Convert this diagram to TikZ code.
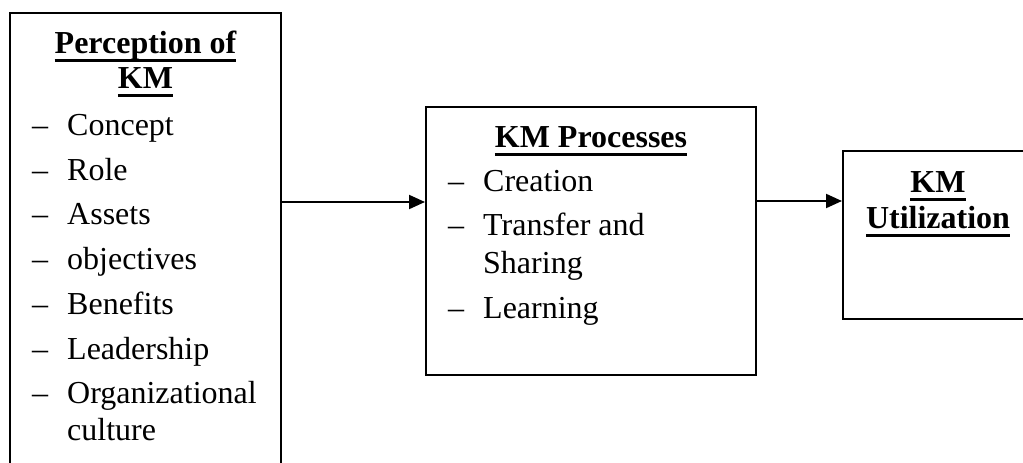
\documentclass[tikz,border=0pt]{standalone}
\usepackage{fontspec}
\setmainfont{Liberation Serif}
\usetikzlibrary{arrows.meta}
\newcommand\myul[1]{\setbox0\hbox{#1}\rlap{\rule[-9pt]{\wd0}{3pt}}\box0}
\tikzset{
  box/.style={draw, line width=2pt, rectangle, inner sep=0pt},
  txt/.style={inner sep=0pt, font=\fontsize{32}{37}\selectfont},
  ttl/.style={txt, anchor=base, font=\fontsize{32}{37}\selectfont\bfseries},
  itm/.style={txt, anchor=base west},
  arr/.style={line width=2pt, -{Triangle[length=16pt,width=14pt]}}
}
\begin{document}
\begin{tikzpicture}[x=1pt,y=-1pt]
\useasboundingbox (0,0) rectangle (1023,463);
\clip (0,0) rectangle (1023,463);
% boxes
\node[box, minimum width=271pt, minimum height=487pt] (lbox) at (145.5,256.5) {};
\node[box, minimum width=330pt, minimum height=268pt] (mbox) at (591,241) {};
\node[box, minimum width=200pt, minimum height=168pt] (rbox) at (943,235) {};
% left box text
\node[ttl] (lt1) at (145.5,53) {\myul{Perception of}};
\node[ttl] (lt2) at (145.5,88) {\myul{KM}};
\foreach \n/\y/\t in {l1/135/Concept, l2/180/Role, l3/224/Assets, l4/269/objectives, l5/314/Benefits, l6/359/Leadership, l7/403/Organizational}{
  \node[itm] (d\n) at (32,\y) {–};
  \node[itm] (\n) at (67,\y) {\t};
}
\node[itm] (l8) at (67,440) {culture};
% middle box text
\node[ttl] (mt) at (591,147) {\myul{KM Processes}};
\foreach \n/\y/\t in {m1/191/Creation, m2/235/Transfer and, m4/318/Learning}{
  \node[itm] (d\n) at (448,\y) {–};
  \node[itm] (\n) at (483,\y) {\t};
}
\node[itm] (m3) at (483,273) {Sharing};
% right box text
\node[ttl] (rt1) at (938,192) {\myul{KM}};
\node[ttl] (rt2) at (938,228) {\myul{Utilization}};
% arrows
\coordinate (a1) at (0,202);
\coordinate (a2) at (0,201);
\draw[arr] (lbox.east |- a1) -- (mbox.west |- a1);
\draw[arr] (mbox.east |- a2) -- (rbox.west |- a2);
\end{tikzpicture}
\end{document}
